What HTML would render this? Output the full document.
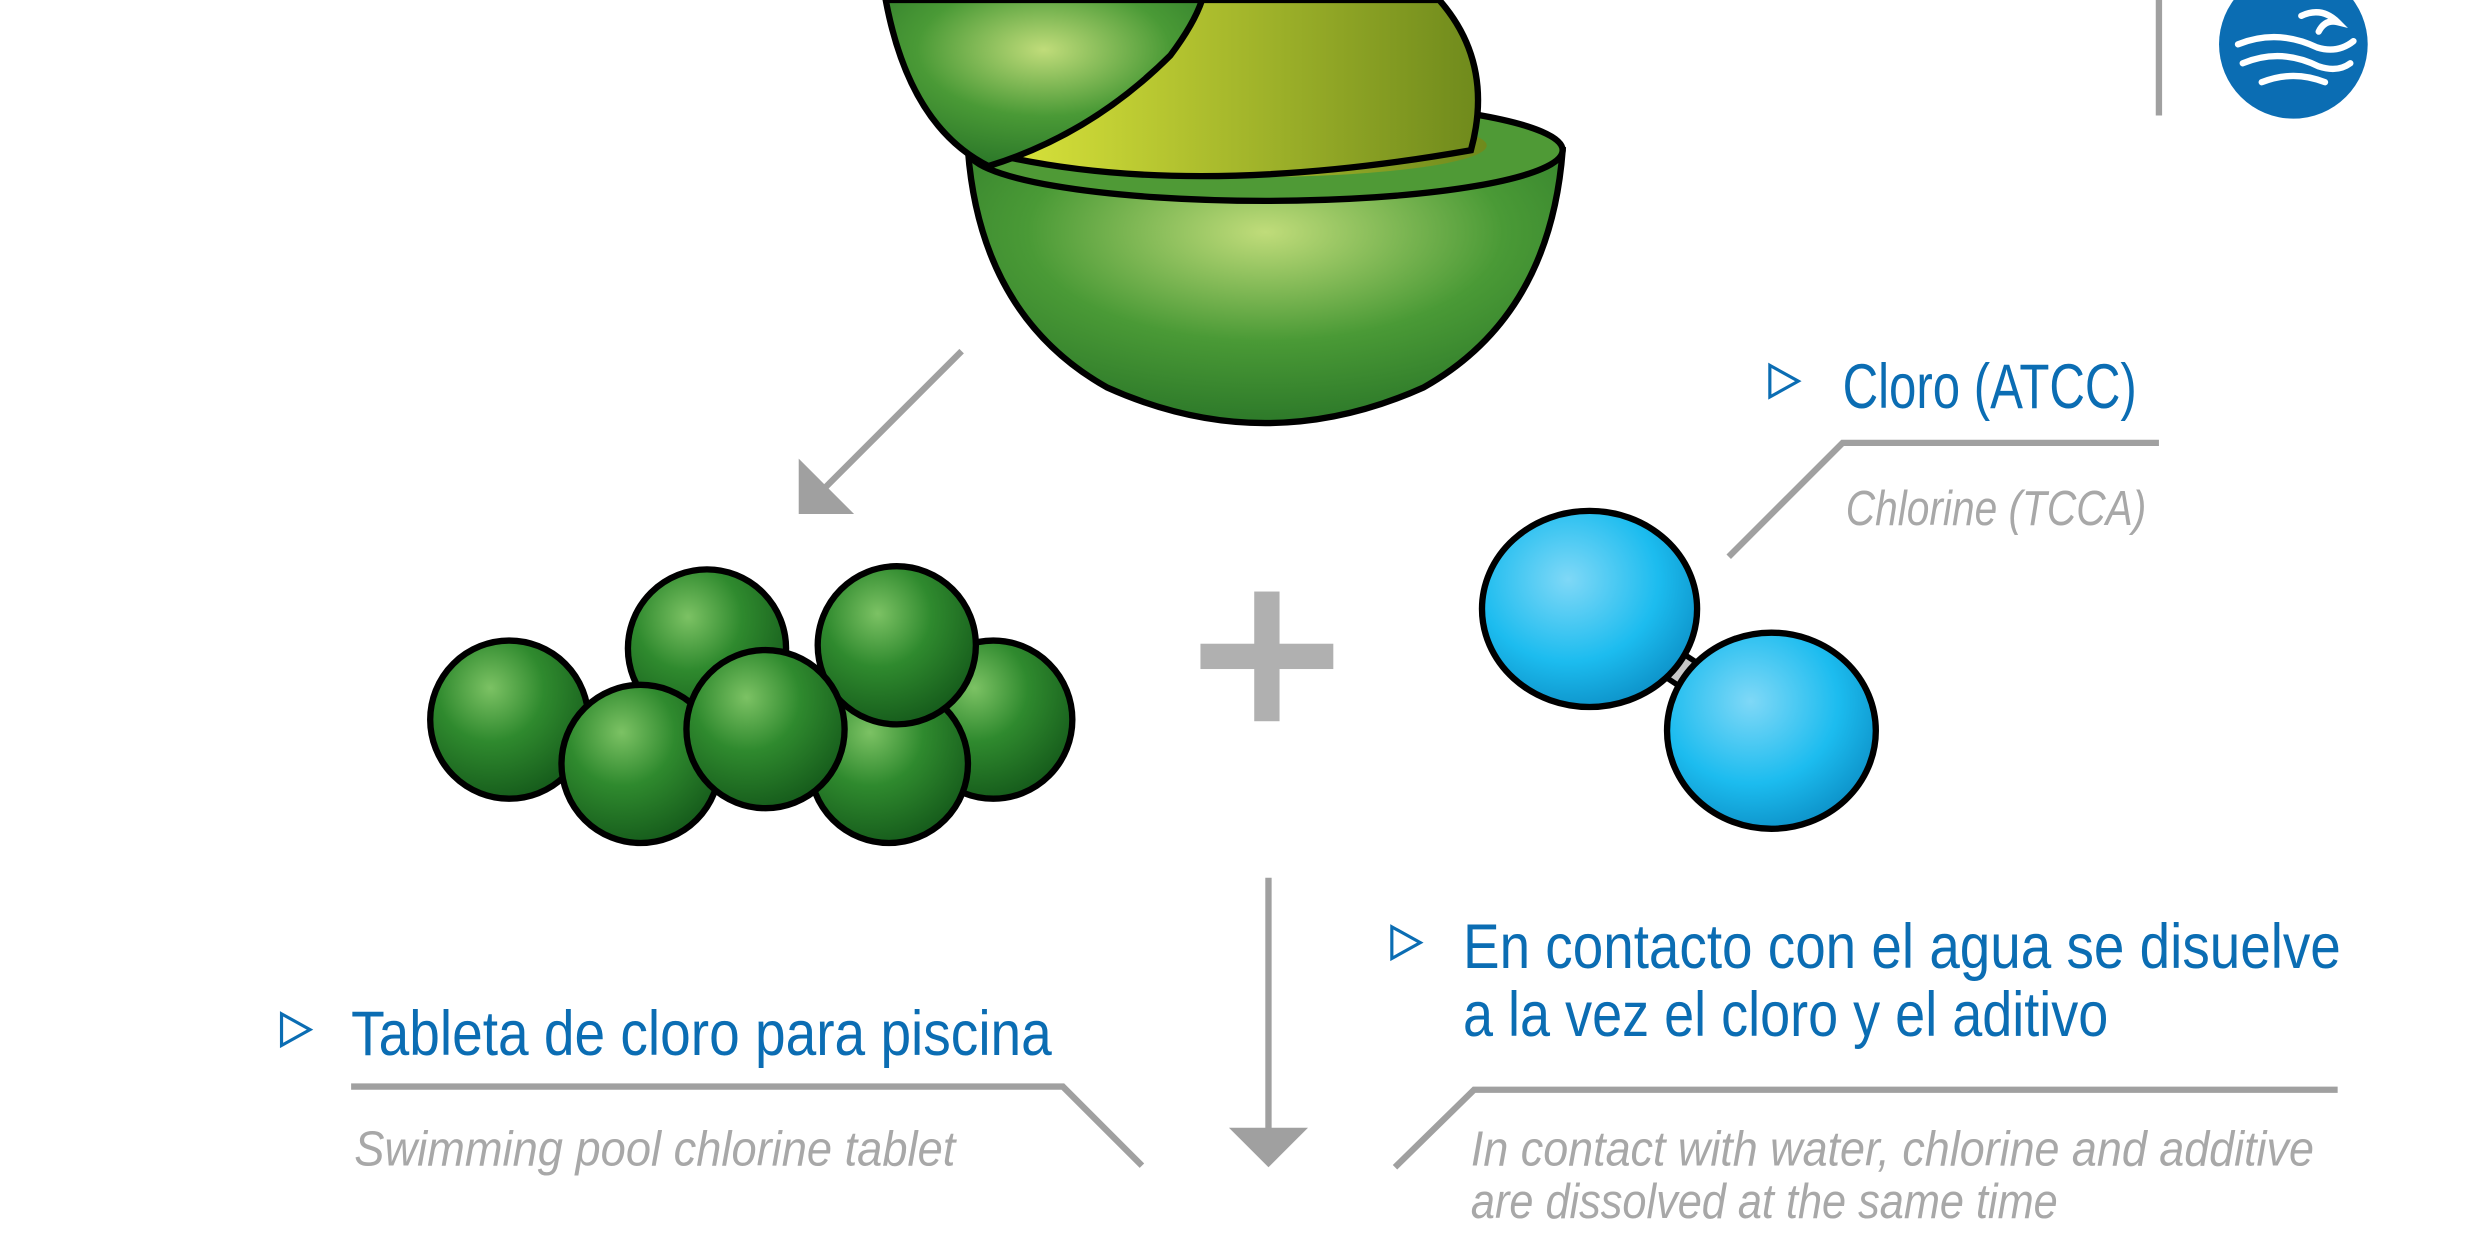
<!DOCTYPE html>
<html><head><meta charset="utf-8"><style>
html,body{margin:0;padding:0;background:#fff;width:2480px;height:1240px;overflow:hidden}
svg{display:block}
.b{font-family:"Liberation Sans",sans-serif;fill:#0b6db3}
.g{font-family:"Liberation Sans",sans-serif;fill:#a8a8a8;font-style:italic}
</style></head><body>
<svg width="2480" height="1240" viewBox="0 0 1568 784" xmlns="http://www.w3.org/2000/svg">
<defs>
<radialGradient id="gb" cx="0.38" cy="0.3" r="0.75">
<stop offset="0" stop-color="#7cc264"/><stop offset="0.45" stop-color="#2f8a2e"/><stop offset="1" stop-color="#14581a"/></radialGradient>
<radialGradient id="gc" cx="0.5" cy="0.3" r="0.8">
<stop offset="0" stop-color="#c0dc7a"/><stop offset="0.5" stop-color="#4a9a36"/><stop offset="1" stop-color="#236e25"/></radialGradient>
<radialGradient id="bl" cx="0.4" cy="0.35" r="0.7">
<stop offset="0" stop-color="#7fd8f7"/><stop offset="0.6" stop-color="#1cbcef"/><stop offset="1" stop-color="#0c8fc6"/></radialGradient>
<linearGradient id="yl" x1="0" y1="0" x2="1" y2="0"><stop offset="0" stop-color="#d8e23a"/><stop offset="1" stop-color="#6f8a1c"/></linearGradient>
</defs>
<!-- capsule -->
<path d="M612 95 Q620 200 700 245 Q800 290 900 245 Q980 200 988 95 Z" fill="url(#gc)" stroke="#000" stroke-width="4"/>
<ellipse cx="800" cy="95" rx="188" ry="32" fill="#4f9a36" stroke="#000" stroke-width="4"/>
<ellipse cx="790" cy="92" rx="150" ry="20" fill="url(#yl)"/>
<path d="M640 100 Q760 125 930 95 Q945 40 910 0 L740 0 Q700 60 640 100 Z" fill="url(#yl)" stroke="#000" stroke-width="4"/>
<path d="M560 0 Q575 80 625 105 Q690 85 740 35 Q755 15 760 0 Z" fill="url(#gc)" stroke="#000" stroke-width="4"/>
<!-- arrow 1 -->
<line x1="608" y1="222" x2="520" y2="310" stroke="#a0a0a0" stroke-width="4"/>
<polygon points="505,290 505,325 540,325" fill="#a0a0a0"/>
<!-- green balls -->
<g stroke="#000" stroke-width="4" fill="url(#gb)">
<circle cx="447" cy="410" r="50"/>
<circle cx="628" cy="455" r="50"/>
<circle cx="322" cy="455" r="50"/>
<circle cx="405" cy="483" r="50"/>
<circle cx="562" cy="483" r="50"/>
<circle cx="567" cy="408" r="50"/>
<circle cx="484" cy="461" r="50"/>
</g>
<!-- plus -->
<rect x="759" y="407" width="84" height="16" fill="#b0b0b0"/>
<rect x="793" y="374" width="16" height="82" fill="#b0b0b0"/>
<!-- blue molecule -->
<line x1="1050" y1="415" x2="1088" y2="440" stroke="#000" stroke-width="22" stroke-linecap="round"/>
<line x1="1050" y1="415" x2="1088" y2="440" stroke="#c8c8c8" stroke-width="15" stroke-linecap="round"/>
<ellipse cx="1120" cy="462" rx="66" ry="62" fill="url(#bl)" stroke="#000" stroke-width="4"/>
<ellipse cx="1005" cy="385" rx="68" ry="62" fill="url(#bl)" stroke="#000" stroke-width="4"/>
<!-- labels -->
<polyline points="1093,352 1165,280 1365,280" fill="none" stroke="#a0a0a0" stroke-width="4"/>
<polygon points="1119,231 1137,241 1119,251" fill="none" stroke="#0b6db3" stroke-width="2"/>
<text x="1165" y="258" class="b" font-size="40" textLength="186" lengthAdjust="spacingAndGlyphs">Cloro (ATCC)</text>
<text x="1167" y="332" class="g" font-size="31" textLength="190" lengthAdjust="spacingAndGlyphs">Chlorine (TCCA)</text>
<!-- vertical arrow -->
<line x1="802" y1="555" x2="802" y2="716" stroke="#a0a0a0" stroke-width="4"/>
<polygon points="777,713 827,713 802,738" fill="#a0a0a0"/>
<!-- left label -->
<polygon points="178,641 196,651 178,661" fill="none" stroke="#0b6db3" stroke-width="2"/>
<text x="222" y="667" class="b" font-size="40" textLength="443" lengthAdjust="spacingAndGlyphs">Tableta de cloro para piscina</text>
<polyline points="222,687 672,687 722,737" fill="none" stroke="#a0a0a0" stroke-width="4"/>
<text x="224" y="737" class="g" font-size="31" textLength="380" lengthAdjust="spacingAndGlyphs">Swimming pool chlorine tablet</text>
<!-- right label -->
<polygon points="880,586 898,596 880,606" fill="none" stroke="#0b6db3" stroke-width="2"/>
<text x="925" y="612" class="b" font-size="40" textLength="555" lengthAdjust="spacingAndGlyphs">En contacto con el agua se disuelve</text>
<text x="925" y="655" class="b" font-size="40" textLength="408" lengthAdjust="spacingAndGlyphs">a la vez el cloro y el aditivo</text>
<polyline points="882,738 932,689 1478,689" fill="none" stroke="#a0a0a0" stroke-width="4"/>
<text x="930" y="737" class="g" font-size="31" textLength="533" lengthAdjust="spacingAndGlyphs">In contact with water, chlorine and additive</text>
<text x="930" y="770" class="g" font-size="31" textLength="371" lengthAdjust="spacingAndGlyphs">are dissolved at the same time</text>
<!-- top right -->
<line x1="1365" y1="0" x2="1365" y2="73" stroke="#a0a0a0" stroke-width="4"/>
<circle cx="1450" cy="28" r="47" fill="#0b6db3"/>
<g fill="none" stroke="#fff" stroke-width="4" stroke-linecap="round">
<path d="M1415 28 Q1440 18 1465 30 Q1478 34 1488 26"/>
<path d="M1418 40 Q1442 30 1466 42 Q1478 46 1486 40"/>
<path d="M1430 52 Q1450 44 1470 52"/>
<path d="M1455 10 Q1468 4 1478 14 Q1470 12 1466 20"/>
</g>
</svg>
</body></html>
